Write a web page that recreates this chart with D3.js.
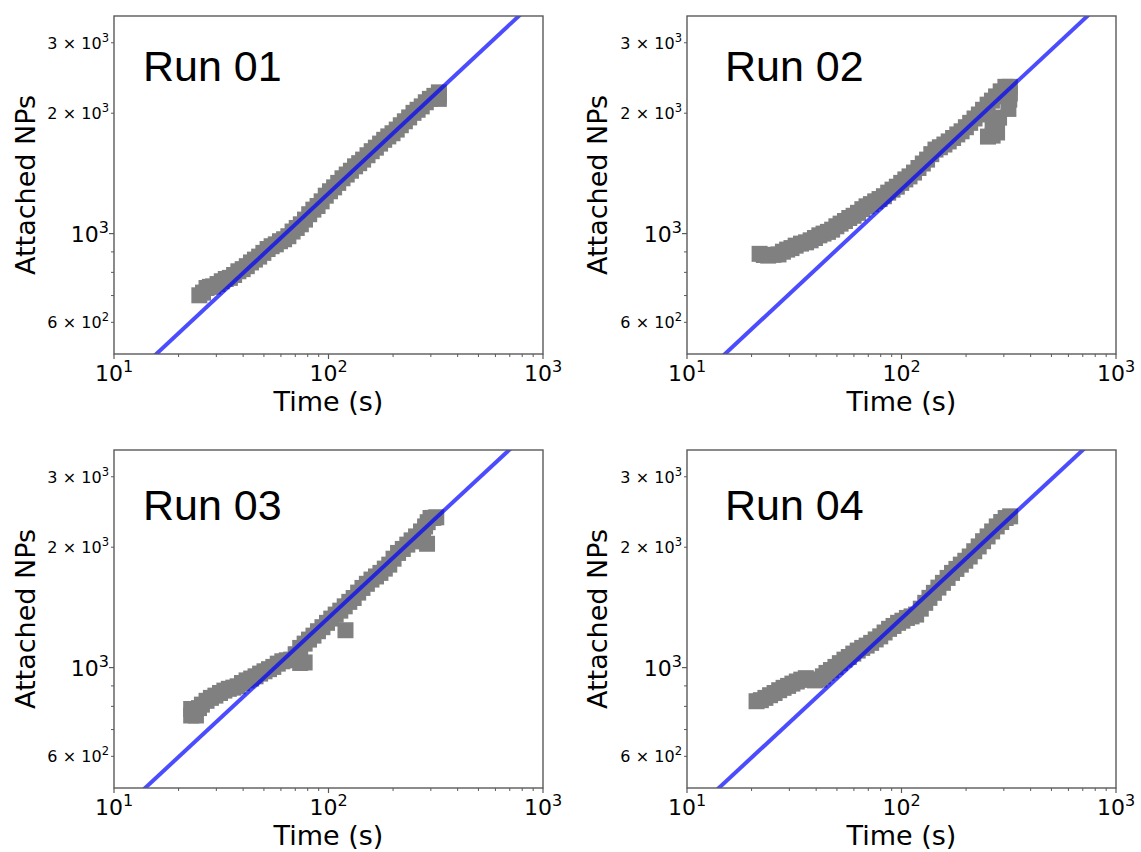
<!DOCTYPE html>
<html>
<head>
<meta charset="utf-8">
<script src="https://cdn.jsdelivr.net/npm/d3@7"></script>
<style>
  html, body { margin: 0; padding: 0; background: #ffffff; }
  svg { display: block; }
</style>
</head>
<body>
<svg id="chart" width="1141" height="852"></svg>
<script>
// ---- data -------------------------------------------------------------
const runNames = ["Run 01", "Run 02", "Run 03", "Run 04"];

const run01Time  = [25, 26, 27, 28, 29, 30.4, 31.8, 33.2, 34.7, 36.3, 38, 39.8, 41.6, 43.5, 45.4, 47.5, 49.7, 52, 54.3, 56.8, 59.4, 62.1, 65, 68, 71.1, 74.3, 77.7, 81.3, 85, 88.9, 92.9, 97.1, 101.6, 106.2, 111, 116.2, 121.6, 127.2, 133, 139, 145, 152, 159, 166.3, 174, 181.8, 190, 198.8, 208, 217.3, 227, 237.7, 249, 260.2, 272, 284.2, 297, 311.6, 327, 327, 327];
const run01Count = [701, 712, 731, 736, 738, 748, 760, 770, 775, 788, 805, 815, 829, 847, 861, 876, 895, 915, 930, 940, 957, 968, 985, 1012, 1033, 1055, 1084, 1118, 1148, 1172, 1204, 1244, 1276, 1305, 1339, 1375, 1405, 1436, 1473, 1500, 1531, 1570, 1607, 1640, 1679, 1716, 1750, 1782, 1820, 1866, 1909, 1952, 2004, 2040, 2080, 2130, 2172, 2210, 2255, 2215, 2172];

const run02Time  = [21.8, 22.8, 23.9, 25.3, 26.7, 28, 29.3, 30.7, 32.1, 34, 35.9, 37.7, 39.5, 41.4, 43.3, 45.4, 47.5, 49.7, 52, 54.5, 57.1, 59.8, 62.7, 65.7, 68.7, 72, 75.4, 79, 82.8, 86.7, 90.8, 95.1, 99.7, 104.2, 109, 114.4, 120, 125.7, 131.6, 137.7, 144, 151, 158.5, 166, 174, 182, 190.6, 199.6, 209, 219, 229.5, 240, 252, 264, 276, 290, 305, 320, 320, 318, 315, 253, 266, 279, 266, 285];
const run02Count = [890, 884, 881, 885, 887, 901, 912, 920, 933, 944, 951, 962, 975, 990, 1000, 1010, 1023, 1043, 1059, 1075, 1094, 1108, 1127, 1151, 1170, 1185, 1204, 1220, 1240, 1266, 1288, 1310, 1339, 1366, 1390, 1421, 1459, 1497, 1531, 1580, 1622, 1644, 1670, 1700, 1734, 1770, 1802, 1845, 1892, 1940, 1985, 2040, 2101, 2150, 2203, 2268, 2328, 2328, 2240, 2163, 2050, 1748, 1758, 1790, 1905, 1950];

const run03Time  = [22.9, 22.9, 23.5, 24.1, 24.9, 25.7, 27, 28.3, 29.7, 31.2, 32.7, 34.3, 36, 37.7, 39.5, 41.5, 43.6, 45.7, 48, 50.3, 52.8, 55.3, 58, 60.9, 63.9, 67, 70.3, 73.8, 73.8, 77.4, 77.4, 81.1, 85.1, 89.3, 93.7, 98.4, 103, 108, 113.5, 119, 120, 125, 131, 137.5, 144, 151, 158.6, 166.5, 174.6, 183, 192, 201, 211, 222, 233, 244, 256, 266, 276, 288, 270, 282, 290, 299, 308, 318];
const run03Count = [788, 759, 776, 759, 792, 808, 826, 840, 851, 864, 876, 885, 891, 898, 915, 929, 939, 951, 966, 979, 991, 1004, 1023, 1037, 1043, 1047, 1080, 1027, 1120, 1030, 1148, 1175, 1202, 1233, 1262, 1294, 1326, 1357, 1388, 1423, 1240, 1460, 1493, 1540, 1582, 1620, 1660, 1690, 1725, 1768, 1809, 1872, 1935, 1980, 2030, 2080, 2128, 2095, 2068, 2040, 2190, 2254, 2310, 2366, 2368, 2376];

const run04Time  = [21.1, 22.1, 23.2, 24.4, 25.6, 26.9, 28.2, 29.6, 31, 32.5, 34.1, 35.8, 37.6, 39.5, 41.4, 43, 44.7, 46.9, 49.2, 51.6, 54.2, 56.8, 59.6, 62.5, 65.6, 68.8, 72.2, 75.8, 79.6, 83.4, 87.5, 91.8, 96.4, 101, 106, 111.4, 117, 123, 129, 135, 141.6, 148.6, 156, 164, 172, 180.3, 189, 198.3, 208, 218.3, 229, 240, 252, 264.6, 278, 291.7, 306, 321];
const run04Count = [824, 829, 840, 853, 864, 878, 890, 900, 912, 923, 933, 941, 933, 929, 933, 951, 970, 986, 1004, 1026, 1047, 1063, 1084, 1103, 1120, 1135, 1153, 1176, 1197, 1224, 1250, 1271, 1294, 1310, 1331, 1343, 1357, 1404, 1452, 1494, 1538, 1585, 1629, 1676, 1725, 1765, 1809, 1850, 1896, 1954, 2009, 2070, 2128, 2190, 2254, 2312, 2366, 2389];

const runTimes  = [run01Time, run02Time, run03Time, run04Time];
const runCounts = [run01Count, run02Count, run03Count, run04Count];

// power-law fits  N = coef * t^exp
const fitCoef = [126, 129, 134.5, 134];
const fitExp  = [0.50, 0.50, 0.498, 0.498];

// axes
const xDomain = [10, 1000];
const yDomain = [500, 3500];
const xMajorTicks = [10, 100, 1000];
const xMajorExp   = ["1", "2", "3"];
const xMinorTicks = [20, 30, 40, 50, 60, 70, 80, 90, 200, 300, 400, 500, 600, 700, 800, 900];
const yMajorTicks = [1000];
const yMinorTicks = [600, 700, 800, 900, 2000, 3000];
const yLabelValues   = [600, 1000, 2000, 3000];
const yLabelMantissa = ["6", "", "2", "3"];
const yLabelExponent = ["2", "3", "3", "3"];

// ---- layout -----------------------------------------------------------
const panelW = 429, panelH = 338;
const panels = [
  { left: 114, top: 16,  titleX: 29, titleY: 65, ylabX: 35 },
  { left: 687, top: 16,  titleX: 38, titleY: 65, ylabX: 607 },
  { left: 114, top: 450, titleX: 29, titleY: 70, ylabX: 35 },
  { left: 687, top: 450, titleX: 38, titleY: 70, ylabX: 607 }
];
const markerSize = 16;
const axisColor = "#5a5a5a";
const tickFont = "'DejaVu Sans', sans-serif";

const svg = d3.select("#chart");

panels.forEach((p, i) => {
  const x = d3.scaleLog().domain(xDomain).range([0, panelW]);
  const y = d3.scaleLog().domain(yDomain).range([panelH, 0]);

  const g = svg.append("g").attr("transform", `translate(${p.left},${p.top})`);

  const clipId = "clip" + i;
  g.append("clipPath").attr("id", clipId)
    .append("rect").attr("width", panelW).attr("height", panelH);

  const plot = g.append("g").attr("clip-path", `url(#${clipId})`);

  // measured points as square markers
  const pts = d3.zip(runTimes[i], runCounts[i]);
  plot.append("g").selectAll("rect").data(pts).join("rect")
    .attr("x", d => x(d[0]) - markerSize / 2)
    .attr("y", d => y(d[1]) - markerSize / 2)
    .attr("width", markerSize)
    .attr("height", markerSize)
    .attr("fill", "#808080");

  // fitted power law
  const fitPts = xDomain.map(t => [t, fitCoef[i] * Math.pow(t, fitExp[i])]);
  plot.append("path")
    .datum(fitPts)
    .attr("d", d3.line().x(d => x(d[0])).y(d => y(d[1])))
    .attr("fill", "none")
    .attr("stroke", "rgb(0,0,255)")
    .attr("stroke-opacity", 0.7)
    .attr("stroke-width", 4);

  // frame
  g.append("rect").attr("width", panelW).attr("height", panelH)
    .attr("fill", "none").attr("stroke", axisColor).attr("stroke-width", 1.4);

  // x ticks
  g.selectAll(".xmaj").data(xMajorTicks).join("line")
    .attr("x1", d => x(d)).attr("x2", d => x(d))
    .attr("y1", panelH).attr("y2", panelH + 5)
    .attr("stroke", axisColor).attr("stroke-width", 1.2);
  g.selectAll(".xmin").data(xMinorTicks).join("line")
    .attr("x1", d => x(d)).attr("x2", d => x(d))
    .attr("y1", panelH).attr("y2", panelH + 3)
    .attr("stroke", axisColor).attr("stroke-width", 1);

  xMajorTicks.forEach((v, k) => {
    const t = g.append("text")
      .attr("x", x(v)).attr("y", panelH + 27)
      .attr("text-anchor", "middle")
      .attr("font-family", tickFont).attr("fill", "#000");
    t.append("tspan").attr("font-size", 22).text("10");
    t.append("tspan").attr("font-size", 16).attr("dy", -9).text(xMajorExp[k]);
  });

  // y ticks
  g.selectAll(".ymaj").data(yMajorTicks).join("line")
    .attr("x1", 0).attr("x2", -5)
    .attr("y1", d => y(d)).attr("y2", d => y(d))
    .attr("stroke", axisColor).attr("stroke-width", 1.2);
  g.selectAll(".ymin").data(yMinorTicks).join("line")
    .attr("x1", 0).attr("x2", -3)
    .attr("y1", d => y(d)).attr("y2", d => y(d))
    .attr("stroke", axisColor).attr("stroke-width", 1);

  yLabelValues.forEach((v, k) => {
    const major = yLabelMantissa[k] === "";
    const base = major ? 22 : 16;
    const sup = major ? 16 : 11.5;
    const t = g.append("text")
      .attr("x", -5).attr("y", y(v) + (major ? 8 : 6))
      .attr("text-anchor", "end")
      .attr("font-family", tickFont).attr("fill", "#000");
    const mant = major ? "10" : yLabelMantissa[k] + "\u2004\u00d7\u200410";
    t.append("tspan").attr("font-size", base).text(mant);
    t.append("tspan").attr("font-size", sup).attr("dy", major ? -9 : -7).text(yLabelExponent[k]);
  });

  // axis titles
  g.append("text")
    .attr("x", panelW / 2).attr("y", panelH + 57)
    .attr("text-anchor", "middle")
    .attr("font-family", tickFont).attr("font-size", 27)
    .attr("fill", "#000").text("Time (s)");

  g.append("text")
    .attr("transform", `translate(${p.ylabX - p.left},${panelH / 2}) rotate(-90)`)
    .attr("text-anchor", "middle")
    .attr("font-family", tickFont).attr("font-size", 27)
    .attr("fill", "#000").text("Attached NPs");

  // run label
  g.append("text")
    .attr("x", p.titleX).attr("y", p.titleY)
    .attr("font-family", "'Liberation Sans', Arial, sans-serif")
    .attr("font-size", 43)
    .attr("fill", "#000").text(runNames[i]);
});
</script>
</body>
</html>
